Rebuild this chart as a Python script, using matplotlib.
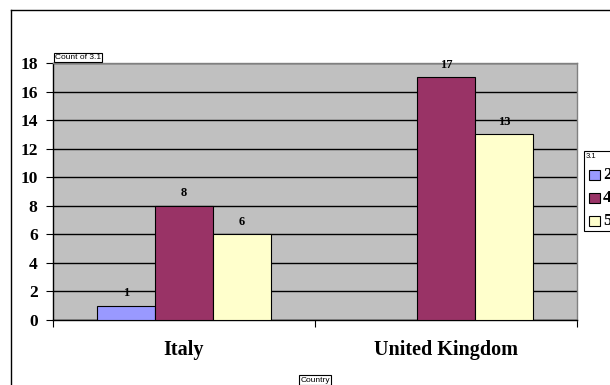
import matplotlib
matplotlib.use("Agg")
import matplotlib.pyplot as plt
from matplotlib.patches import Rectangle
from matplotlib.lines import Line2D
import numpy as np

countries = ["Italy", "United Kingdom"]
series_names = ["2", "4", "5"]
values_2 = [1, 0]
values_4 = [8, 17]
values_5 = [6, 13]
colors = ["#9999FF", "#993366", "#FFFFCC"]
yticks = [0, 2, 4, 6, 8, 10, 12, 14, 16, 18]

W, H = 610, 385
fig = plt.figure(figsize=(W / 100, H / 100), dpi=100)
fig.patch.set_facecolor("white")

serif = ["Liberation Serif", "DejaVu Serif"]
sans = ["Liberation Sans", "DejaVu Sans"]

def fx(px):
    return px / W

def fy(py):
    return 1 - py / H

# outer chart border (partly outside the canvas)
fig.add_artist(Line2D([fx(11), fx(11)], [fy(10), fy(400)], color="black", lw=1.0))
fig.add_artist(Line2D([fx(11), fx(620)], [fy(10), fy(10)], color="black", lw=1.0))

ax = fig.add_axes([fx(53), fy(320), fx(577) - fx(53), fy(63) - fy(320)])
ax.set_facecolor("#C0C0C0")

x = np.arange(len(countries))
bw = 0.221
all_series = [values_2, values_4, values_5]
for i, (vals, col) in enumerate(zip(all_series, colors)):
    offs = (i - 1) * bw
    for xi, v in zip(x, vals):
        if v <= 0:
            continue
        ax.bar(xi + offs, v, width=bw, color=col, edgecolor="black", linewidth=0.8, zorder=3)
        ax.text(xi + offs, v + 0.45, str(v), ha="center", va="bottom",
                fontsize=9, fontweight="bold", family=serif, zorder=4)

ax.set_xlim(-0.5, 1.5)
ax.set_ylim(0, 18)
ax.set_yticks(yticks)
ax.set_yticklabels([str(t) for t in yticks], fontsize=12.5, fontweight="bold", family=serif)
ax.yaxis.grid(True, color="black", linewidth=1.0, zorder=1)
ax.set_axisbelow(True)

ax.set_xticks([-0.5, 0.5, 1.5])
ax.set_xticklabels(["", "", ""])
ax.tick_params(axis="x", length=5, width=0.8, direction="out")
ax.tick_params(axis="y", length=5, width=0.8, direction="out", pad=6)
for xi, name in zip(x, countries):
    ax.text(xi, -2.1, name, ha="center", va="center", fontsize=14.5,
            fontweight="bold", family=serif)

for side in ["top", "right"]:
    ax.spines[side].set_color("#808080")
    ax.spines[side].set_linewidth(1.0)
for side in ["left", "bottom"]:
    ax.spines[side].set_color("black")
    ax.spines[side].set_linewidth(1.0)

# field buttons
fig.text(fx(55), fy(57.5), "Count of 3.1", fontsize=6, family=sans, va="center", ha="left",
         bbox=dict(boxstyle="square,pad=0.15", fc="white", ec="black", lw=0.8))
fig.text(fx(315), fy(380), "Country", fontsize=6, family=sans, va="center", ha="center",
         bbox=dict(boxstyle="square,pad=0.15", fc="white", ec="black", lw=0.8))

# legend box, running off the right edge
fig.add_artist(Rectangle((fx(584), fy(231)), fx(40), fy(151) - fy(231),
                         transform=fig.transFigure, fc="white", ec="black", lw=0.8))
fig.text(fx(586), fy(156), "3.1", fontsize=5.5, family=sans, va="center", ha="left")
legend_y = [175, 198, 221]
for name, col, py in zip(series_names, colors, legend_y):
    fig.add_artist(Rectangle((fx(589), fy(py + 5)), fx(11), fy(py - 5) - fy(py + 5),
                             transform=fig.transFigure, fc=col, ec="black", lw=0.8))
    fig.text(fx(603), fy(py), name, fontsize=12.5, fontweight="bold", family=serif,
             va="center", ha="left")

fig.savefig("out.png", dpi=100)
